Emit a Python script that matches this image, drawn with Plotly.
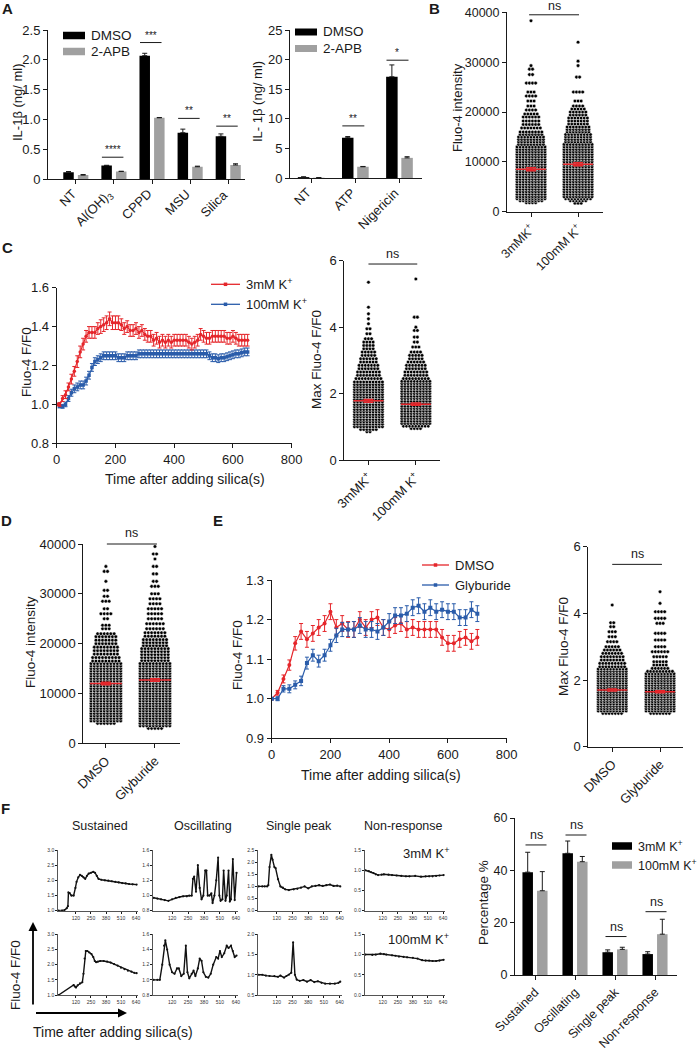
import plotly.graph_objects as go

W, H = 699, 1050
FONT = "Liberation Sans, Arial, Helvetica, sans-serif"
RED = "#e5262b"; BLUE = "#2a5caa"; GREY = "#a0a0a0"; INK = "#1a1a1a"

# ------------------------------------------------------------------ data
A1_cats = ["NT", "Al(OH)<sub>3</sub>", "CPPD", "MSU", "Silica"]
A1_dmso = [0.12, 0.23, 2.07, 0.78, 0.72]
A1_dmso_err = [0.01, 0.005, 0.04, 0.06, 0.04]
A1_apb = [0.07, 0.13, 1.03, 0.21, 0.24]
A1_apb_err = [0.01, 0.005, 0.005, 0.01, 0.02]
A1_sig = ["", "****", "***", "**", "**"]
A1_sig_y = [None, 0.37, 2.29, 1.02, 0.89]

A2_cats = ["NT", "ATP", "Nigericin"]
A2_dmso = [0.15, 6.8, 17.1]
A2_dmso_err = [0.05, 0.2, 2.0]
A2_apb = [0.05, 1.9, 3.4]
A2_apb_err = [0.02, 0.05, 0.2]
A2_sig = ["", "**", "*"]
A2_sig_y = [None, 8.8, 19.9]

# panel B swarm (Fluo-4 intensity), rows of dots: level value and number of dots
B_cats = ["3mMK<sup>+</sup>", "100mM K<sup>+</sup>"]
B_3mM_levels = [1800, 2200, 2600, 3000, 3500, 4000, 4500, 5000, 5500, 6000,
                6500, 7000, 7500, 8000, 8500, 9000, 9500, 10000, 10500, 11000,
                11500, 12000, 12500, 13000, 13500, 14000, 14500, 15000, 15500, 16000,
                16800, 17500, 18200, 19000, 19600, 20400, 21200, 22200, 23200, 24000,
                25800, 27500, 28600, 29300, 38300]
B_3mM_counts = [4, 8, 10, 10, 10, 10, 10, 10, 10, 10,
                10, 10, 10, 10, 10, 10, 10, 10, 10, 10,
                10, 10, 10, 10, 9, 9, 9, 9, 8, 8,
                7, 6, 6, 6, 5, 4, 3, 3, 4, 3,
                4, 2, 2, 1, 1]
B_100mM_levels = [1700, 2200, 2600, 3000, 3500, 4000, 4500, 5000, 5500, 6000,
                  6500, 7000, 7500, 8000, 8500, 9000, 9500, 10000, 10500, 11000,
                  11500, 12000, 12500, 13000, 13500, 14000, 14500, 15000, 15500, 16000,
                  16500, 17000, 17600, 18200, 18800, 19400, 20000, 20600, 21200, 22200,
                  24000, 27000, 29300, 30200, 34000]
B_100mM_counts = [3, 6, 9, 10, 10, 10, 10, 10, 10, 10,
                  10, 10, 10, 10, 10, 10, 10, 10, 10, 10,
                  10, 10, 10, 10, 10, 9, 9, 9, 9, 8,
                  8, 8, 7, 7, 7, 6, 6, 5, 4, 3,
                  4, 2, 1, 1, 1]
B_means = [8500, 9500]
B_sems = [300, 300]

# panel C kinetics
C_t = [0, 10, 20, 30, 40, 50, 60, 70, 80, 90, 100, 110, 120, 130, 140, 150, 160, 170, 180, 190,
       200, 210, 220, 230, 240, 250, 260, 270, 280, 290, 300, 310, 320, 330, 340, 350, 360, 370, 380, 390,
       400, 410, 420, 430, 440, 450, 460, 470, 480, 490, 500, 510, 520, 530, 540, 550, 560, 570, 580, 590,
       600, 610, 620, 630, 640, 650]
C_red = [1.00, 1.00, 1.03, 1.05, 1.09, 1.13, 1.17, 1.22, 1.27, 1.31,
         1.35, 1.37, 1.37, 1.37, 1.39, 1.40, 1.41, 1.42, 1.44, 1.42,
         1.42, 1.42, 1.41, 1.39, 1.40, 1.38, 1.38, 1.39, 1.37, 1.38,
         1.36, 1.35, 1.35, 1.33, 1.34, 1.32, 1.33, 1.32, 1.33, 1.32,
         1.33, 1.33, 1.33, 1.33, 1.33, 1.32, 1.31, 1.32, 1.33, 1.36,
         1.35, 1.34, 1.34, 1.35, 1.35, 1.35, 1.35, 1.35, 1.34, 1.34,
         1.35, 1.34, 1.33, 1.33, 1.33, 1.33]
C_red_err = [0.005, 0.01, 0.015, 0.02, 0.02, 0.025, 0.025, 0.03, 0.03, 0.03,
             0.03, 0.03, 0.03, 0.03, 0.03, 0.035, 0.035, 0.035, 0.035, 0.035,
             0.035, 0.035, 0.03, 0.03, 0.03, 0.03, 0.03, 0.03, 0.03, 0.03,
             0.03, 0.03, 0.03, 0.03, 0.03, 0.03, 0.03, 0.03, 0.03, 0.03,
             0.03, 0.03, 0.03, 0.03, 0.03, 0.03, 0.03, 0.03, 0.03, 0.03,
             0.03, 0.03, 0.03, 0.03, 0.03, 0.03, 0.03, 0.03, 0.03, 0.03,
             0.03, 0.03, 0.03, 0.03, 0.03, 0.03]
C_blue = [1.00, 0.99, 0.99, 1.00, 1.03, 1.06, 1.08, 1.09, 1.10, 1.10,
          1.12, 1.15, 1.19, 1.22, 1.23, 1.24, 1.25, 1.25, 1.25, 1.25,
          1.25, 1.24, 1.24, 1.24, 1.25, 1.25, 1.25, 1.25, 1.26, 1.26,
          1.26, 1.26, 1.26, 1.26, 1.26, 1.26, 1.26, 1.26, 1.26, 1.26,
          1.26, 1.26, 1.26, 1.26, 1.26, 1.26, 1.26, 1.26, 1.26, 1.26,
          1.26, 1.26, 1.25, 1.24, 1.24, 1.235, 1.24, 1.24, 1.245, 1.25,
          1.255, 1.26, 1.26, 1.265, 1.27, 1.27]
C_blue_err = [0.005, 0.008, 0.01, 0.012, 0.015, 0.018, 0.02, 0.02, 0.02, 0.02,
              0.02, 0.02, 0.02, 0.02, 0.02, 0.02, 0.02, 0.02, 0.02, 0.02,
              0.02, 0.02, 0.02, 0.02, 0.02, 0.02, 0.02, 0.02, 0.02, 0.02,
              0.02, 0.02, 0.02, 0.02, 0.02, 0.02, 0.02, 0.02, 0.02, 0.02,
              0.02, 0.02, 0.02, 0.02, 0.02, 0.02, 0.02, 0.02, 0.02, 0.02,
              0.02, 0.02, 0.02, 0.02, 0.02, 0.02, 0.02, 0.02, 0.02, 0.02,
              0.02, 0.02, 0.02, 0.02, 0.02, 0.02]

C2_cats = ["3mMK<sup>+</sup>", "100mM K<sup>+</sup>"]
C2_3mM_levels = [0.85, 0.92, 1.0, 1.08, 1.15, 1.22, 1.3, 1.37, 1.45, 1.52,
                 1.6, 1.67, 1.75, 1.82, 1.9, 1.97, 2.05, 2.12, 2.2, 2.27,
                 2.35, 2.45, 2.55, 2.65, 2.75, 2.85, 2.95, 3.05, 3.15, 3.25,
                 3.35, 3.45, 3.55, 3.65, 3.8, 3.95, 4.1, 4.25, 4.4, 4.6, 5.35]
C2_3mM_counts = [2, 6, 10, 10, 10, 10, 10, 10, 10, 10,
                 10, 10, 10, 10, 10, 10, 10, 10, 10, 10,
                 10, 9, 8, 8, 7, 7, 6, 6, 5, 5,
                 4, 4, 4, 3, 2, 2, 1, 1, 1, 1, 1]
C2_100mM_levels = [0.95, 1.02, 1.1, 1.17, 1.25, 1.32, 1.4, 1.47, 1.55, 1.62,
                   1.7, 1.77, 1.85, 1.92, 2.0, 2.07, 2.15, 2.22, 2.3, 2.37,
                   2.45, 2.55, 2.65, 2.75, 2.85, 2.95, 3.05, 3.15, 3.25, 3.4,
                   3.55, 3.7, 3.9, 4.0, 4.3, 5.45]
C2_100mM_counts = [4, 9, 10, 10, 10, 10, 10, 10, 10, 10,
                   10, 10, 10, 10, 10, 10, 10, 10, 10, 10,
                   9, 8, 8, 7, 7, 6, 5, 5, 4, 3,
                   2, 2, 2, 1, 2, 1]
C2_means = [1.78, 1.68]
C2_sems = [0.04, 0.035]

D_cats = ["DMSO", "Glyburide"]
D_dmso_levels = [4000, 4500, 5000, 5500, 6000, 6500, 7000, 7500, 8000, 8500,
                 9000, 9500, 10000, 10500, 11000, 11500, 12000, 12500, 13000, 13500,
                 14000, 14500, 15000, 15500, 16000, 16500, 17200, 17900, 18600, 19300,
                 20000, 20700, 21400, 22000, 23000, 23700, 25000, 26000, 27000, 28500,
                 29500, 30700, 32500, 34500, 35500]
D_dmso_counts = [6, 10, 10, 10, 10, 10, 10, 10, 10, 10,
                 10, 10, 10, 10, 10, 10, 10, 10, 10, 10,
                 10, 10, 10, 10, 10, 9, 9, 8, 8, 8,
                 7, 7, 7, 6, 3, 3, 2, 4, 2, 3,
                 2, 2, 1, 2, 1]
D_gly_levels = [3000, 3500, 4000, 4500, 5000, 5500, 6000, 6500, 7000, 7500,
                8000, 8500, 9000, 9500, 10000, 10500, 11000, 11500, 12000, 12500,
                13000, 13500, 14000, 14500, 15000, 15500, 16000, 16600, 17200, 17800,
                18400, 19000, 19600, 20200, 20800, 21500, 22200, 23000, 24000, 25000,
                26000, 27000, 28000, 29000, 30000, 31500, 32500, 34000, 35500, 37000,
                38000, 39500]
D_gly_counts = [5, 10, 10, 10, 10, 10, 10, 10, 10, 10,
                10, 10, 10, 10, 10, 10, 10, 10, 10, 10,
                10, 10, 10, 10, 10, 10, 10, 9, 9, 9,
                9, 9, 8, 8, 8, 7, 7, 6, 6, 5,
                5, 5, 4, 4, 3, 3, 2, 2, 2, 1,
                2, 1]
D_means = [12000, 12700]
D_sems = [250, 250]

E_t = [0, 20, 40, 60, 80, 100, 120, 140, 160, 180, 200, 220, 240, 260, 280, 300, 320, 340,
       360, 380, 400, 420, 440, 460, 480, 500, 520, 540, 560, 580, 600, 620, 640, 660, 680, 700]
E_dmso = [1.0, 1.015, 1.05, 1.085, 1.14, 1.17, 1.15, 1.165, 1.18, 1.19,
          1.22, 1.18, 1.19, 1.175, 1.175, 1.20, 1.18, 1.20, 1.205, 1.18,
          1.175, 1.185, 1.19, 1.175, 1.18, 1.175, 1.175, 1.175, 1.175, 1.155,
          1.14, 1.14, 1.15, 1.155, 1.145, 1.155]
E_dmso_err = [0.003, 0.006, 0.01, 0.013, 0.017, 0.02, 0.02, 0.02, 0.02, 0.02,
              0.02, 0.02, 0.02, 0.02, 0.02, 0.02, 0.02, 0.02, 0.02, 0.02,
              0.02, 0.02, 0.02, 0.02, 0.02, 0.02, 0.02, 0.02, 0.02, 0.02,
              0.02, 0.02, 0.02, 0.02, 0.02, 0.02]
E_gly = [1.0, 1.0, 1.025, 1.025, 1.035, 1.045, 1.09, 1.11, 1.095, 1.11,
         1.135, 1.16, 1.175, 1.175, 1.175, 1.185, 1.175, 1.175, 1.17, 1.18,
         1.195, 1.21, 1.21, 1.215, 1.23, 1.235, 1.22, 1.23, 1.22, 1.225,
         1.22, 1.22, 1.205, 1.205, 1.225, 1.215]
E_gly_err = [0.003, 0.005, 0.008, 0.01, 0.01, 0.012, 0.015, 0.015, 0.015, 0.015,
             0.015, 0.018, 0.018, 0.018, 0.02, 0.02, 0.02, 0.02, 0.02, 0.02,
             0.02, 0.02, 0.02, 0.02, 0.02, 0.02, 0.02, 0.02, 0.02, 0.02,
             0.02, 0.02, 0.02, 0.02, 0.02, 0.02]

E2_cats = ["DMSO", "Glyburide"]
E2_dmso_levels = [1.0, 1.07, 1.14, 1.21, 1.28, 1.35, 1.42, 1.49, 1.56, 1.63,
                  1.7, 1.77, 1.84, 1.91, 1.98, 2.05, 2.12, 2.19, 2.26, 2.33,
                  2.4, 2.5, 2.6, 2.7, 2.8, 2.9, 3.0, 3.15, 3.3, 3.45,
                  3.6, 3.72, 4.25]
E2_dmso_counts = [7, 10, 10, 10, 10, 10, 10, 10, 10, 10,
                  10, 10, 10, 10, 10, 10, 10, 10, 10, 10,
                  9, 9, 8, 8, 7, 6, 5, 4, 3, 3,
                  2, 2, 1]
E2_gly_levels = [1.0, 1.07, 1.14, 1.21, 1.28, 1.35, 1.42, 1.49, 1.56, 1.63,
                 1.7, 1.77, 1.84, 1.91, 1.98, 2.05, 2.12, 2.19, 2.26, 2.35,
                 2.45, 2.55, 2.7, 2.85, 3.0, 3.2, 3.4, 3.7, 3.85, 4.05,
                 4.3, 4.65]
E2_gly_counts = [7, 10, 10, 10, 10, 10, 10, 10, 10, 10,
                 10, 10, 10, 10, 10, 10, 10, 10, 9, 6,
                 5, 5, 5, 6, 4, 4, 4, 3, 4, 4,
                 1, 1]
E2_means = [1.70, 1.65]
E2_sems = [0.03, 0.03]

# panel F single-cell traces (time s, F/F0)
F_titles = ["Sustained", "Oscillating", "Single peak", "Non-response"]
F_xticks = [120, 250, 380, 510, 640]
sus1_t = [-30, 0, 20, 40, 50, 55, 65, 80, 100, 115, 125, 140, 155, 170, 185, 200, 215, 230, 250, 270,
          285, 300, 315, 340, 370, 400, 430, 460, 490, 520, 550, 580, 610, 645]
sus1_v = [1.0, 1.0, 1.02, 1.08, 1.15, 1.6, 1.58, 1.5, 1.5, 1.75, 1.95, 2.1, 2.18, 2.15, 2.1, 2.05, 2.15, 2.22, 2.25, 2.28,
          2.25, 2.15, 2.05, 2.02, 2.0, 1.99, 1.97, 1.95, 1.93, 1.91, 1.9, 1.88, 1.87, 1.86]
sus2_t = [-30, 100, 110, 120, 135, 155, 175, 185, 195, 205, 218, 235, 254, 270, 283, 295, 310, 330, 360, 390,
          420, 450, 480, 510, 540, 570, 600, 625, 645]
sus2_v = [1.0, 1.33, 1.28, 1.25, 1.32, 1.38, 1.42, 1.7, 2.2, 2.45, 2.45, 2.4, 2.35, 2.25, 2.12, 2.08, 2.1, 2.12, 2.12, 2.1,
          2.07, 2.02, 1.97, 1.9, 1.85, 1.8, 1.77, 1.73, 1.72]
osc1_t = [-30, 0, 30, 60, 90, 120, 150, 180, 210, 240, 260, 280, 290, 300, 315, 330, 345, 360, 375, 390,
          400, 410, 425, 440, 450, 465, 480, 495, 505, 515, 530, 540, 555, 565, 580, 590, 600, 615, 630, 645]
osc1_v = [0.97, 0.96, 0.95, 0.94, 0.93, 0.95, 0.97, 0.98, 0.99, 0.99, 1.0, 1.0, 1.22, 1.25, 1.05, 1.4, 1.1, 0.95, 1.0, 1.33,
          1.33, 1.0, 1.0, 1.03, 0.9, 1.0, 1.2, 1.5, 1.0, 0.93, 0.95, 1.33, 0.93, 1.0, 1.33, 0.92, 0.95, 1.48, 0.94, 1.3]
osc2_t = [-30, 0, 20, 40, 55, 65, 80, 100, 120, 140, 160, 175, 195, 215, 232, 245, 260, 280, 295, 310,
          330, 345, 360, 375, 395, 415, 435, 455, 480, 495, 510, 525, 545, 565, 580, 600, 615, 630, 645]
osc2_v = [1.0, 1.0, 1.0, 1.2, 1.45, 1.52, 1.4, 1.2, 1.1, 1.08, 1.15, 1.15, 1.05, 1.08, 1.45, 1.1, 1.02, 1.08, 1.12, 1.05,
          1.15, 1.28, 1.25, 1.1, 1.04, 1.03, 1.08, 1.2, 1.3, 1.28, 1.38, 1.3, 1.35, 1.45, 1.42, 1.45, 1.38, 1.3, 1.32]
sgl1_t = [-30, 0, 20, 40, 50, 60, 75, 85, 100, 110, 130, 150, 170, 190, 220, 260, 290, 320, 350, 380,
          410, 440, 470, 500, 530, 560, 590, 620, 645]
sgl1_v = [1.0, 1.0, 1.0, 1.0, 1.05, 1.8, 2.3, 2.1, 1.8, 1.75, 1.3, 1.0, 0.95, 0.88, 0.85, 0.88, 0.9, 0.95, 1.0, 0.92,
          1.0, 1.02, 1.05, 1.02, 1.05, 1.08, 1.02, 1.03, 1.0]
sgl2_t = [-30, 0, 30, 60, 100, 130, 150, 180, 200, 220, 240, 255, 270, 285, 310, 340, 370, 400, 430, 460,
          490, 520, 560, 600, 630, 645]
sgl2_v = [1.0, 1.0, 0.98, 0.97, 0.97, 0.95, 0.98, 0.93, 0.97, 1.0, 1.05, 1.8, 1.0, 0.88, 0.85, 0.87, 0.83, 0.87, 0.82, 0.84,
          0.8, 0.78, 0.78, 0.78, 0.8, 0.83]
non1_t = [-30, 0, 20, 40, 60, 80, 110, 130, 170, 200, 240, 280, 320, 350, 400, 450, 490, 520, 550, 580, 610, 645]
non1_v = [1.0, 0.98, 0.95, 0.93, 0.9, 0.88, 0.89, 0.9, 0.89, 0.88, 0.87, 0.86, 0.85, 0.85, 0.86, 0.84, 0.85, 0.85, 0.85, 0.86, 0.87, 0.88]
non2_t = [-30, 30, 60, 100, 130, 150, 200, 230, 260, 300, 330, 380, 420, 460, 490, 520, 550, 580, 610, 645]
non2_v = [1.0, 0.99, 1.0, 1.02, 1.01, 1.0, 0.98, 0.97, 0.95, 0.94, 0.93, 0.92, 0.9, 0.86, 0.85, 0.85, 0.84, 0.84, 0.85, 0.87]

F2_cats = ["Sustained", "Oscillating", "Single peak", "Non-response"]
F2_3mM = [39.3, 46.5, 8.7, 8.0]
F2_3mM_err = [7.6, 4.7, 0.9, 0.9]
F2_100mM = [32.2, 43.3, 9.8, 15.6]
F2_100mM_err = [7.3, 2.0, 0.8, 5.7]
F2_sig_y = [49.7, 53.5, 14.7, 24.2]

# ------------------------------------------------------------------ helpers
fig = go.Figure()
axes = {}
shapes = []
annots = []


class Panel:
    def __init__(self, n, l, r, t, b, xr, yr):
        self.l, self.r, self.t, self.b, self.xr, self.yr = l, r, t, b, xr, yr
        s = "" if n == 1 else str(n)
        self.xref, self.yref = "x" + s, "y" + s

    def px(self, v):
        return (self.l + (v - self.xr[0]) / (self.xr[1] - self.xr[0]) * (self.r - self.l)) / W

    def py(self, v):
        return 1 - (self.b - (v - self.yr[0]) / (self.yr[1] - self.yr[0]) * (self.b - self.t)) / H

    def ux(self, pixels):
        return pixels / (self.r - self.l) * (self.xr[1] - self.xr[0])


def axis_base(size=12, ticklen=4, lw=1):
    return dict(showline=True, linecolor=INK, linewidth=lw, ticks="outside", ticklen=ticklen,
                tickwidth=1, tickcolor=INK, showgrid=False, zeroline=False, fixedrange=True,
                automargin=False,
                tickfont=dict(family=FONT, size=size, color=INK))


count = [0]


def panel(l, r, t, b, xr, yr, xkw=None, ykw=None, size=12, ticklen=4):
    count[0] += 1
    n = count[0]
    p = Panel(n, l, r, t, b, xr, yr)
    s = "" if n == 1 else str(n)
    xa = axis_base(size, ticklen)
    xa.update(domain=[l / W, r / W], range=xr, anchor="y" + s)
    xa.update(xkw or {})
    ya = axis_base(size, ticklen)
    ya.update(domain=[1 - b / H, 1 - t / H], range=yr, anchor="x" + s)
    ya.update(ykw or {})
    axes["xaxis" + s] = xa
    axes["yaxis" + s] = ya
    return p


def note(s, X, Y, size=12, angle=0, xa="center", ya="middle", color=INK):
    annots.append(dict(text=s, x=X, y=Y, xref="paper", yref="paper", showarrow=False,
                       font=dict(family=FONT, size=size, color=color), textangle=angle,
                       xanchor=xa, yanchor=ya, borderpad=0))


def pnote(s, x, y, **kw):
    note(s, x / W, 1 - y / H, **kw)


def seg(X0, Y0, X1, Y1, color=INK, width=1):
    shapes.append(dict(type="line", xref="paper", yref="paper", x0=X0, y0=Y0, x1=X1, y1=Y1,
                       line=dict(color=color, width=width)))


def rect(x0, y0, x1, y1, color):
    shapes.append(dict(type="rect", xref="paper", yref="paper", x0=x0 / W, y0=1 - y1 / H,
                       x1=x1 / W, y1=1 - y0 / H, line=dict(width=0), fillcolor=color))


def sig(p, xa, xb, yv, label, size=11, gap=1):
    seg(p.px(xa), p.py(yv), p.px(xb), p.py(yv))
    note(label, (p.px(xa) + p.px(xb)) / 2, p.py(yv) + gap / H, size=size, ya="bottom")


def rot_labels(p, labels, size=13):
    # rotated category labels, end of text at each tick
    for i, lab in enumerate(labels):
        note(lab, p.px(i) + 4 / W, 1 - (p.b + 6) / H, size=size, angle=-45, xa="right", ya="top")


def add_bars(p, vals, errs, color, offset, width):
    fig.add_trace(go.Bar(x=[i + offset for i in range(len(vals))], y=vals, width=width,
                         marker=dict(color=color, line=dict(width=0)),
                         error_y=dict(type="data", symmetric=False, array=errs,
                                      arrayminus=[0] * len(errs), color=INK, thickness=1, width=2.5),
                         xaxis=p.xref, yaxis=p.yref))


def add_swarm(p, center, levels, counts, mean, sem, sp_px=3.1, half_px=15):
    sp = p.ux(sp_px)
    xs, ys = [], []
    for lv, c in zip(levels, counts):
        for i in range(c):
            xs.append(center + (i - (c - 1) / 2) * sp)
            ys.append(lv)
    fig.add_trace(go.Scatter(x=xs, y=ys, mode="markers", cliponaxis=False,
                             marker=dict(size=3.6, color="black", line=dict(width=0.5, color="white")),
                             xaxis=p.xref, yaxis=p.yref))
    hw = p.ux(half_px)
    fig.add_trace(go.Scatter(x=[center - hw, center + hw], y=[mean, mean], mode="lines",
                             line=dict(color=RED, width=1.5), xaxis=p.xref, yaxis=p.yref))
    fig.add_trace(go.Scatter(x=[center], y=[mean], mode="markers", marker=dict(size=1, color=RED),
                             error_y=dict(type="data", array=[sem], color=RED, thickness=1.5, width=5),
                             xaxis=p.xref, yaxis=p.yref))


def add_series(p, t, v, e, color, symbol, msize):
    fig.add_trace(go.Scatter(x=t, y=v, mode="lines+markers", line=dict(color=color, width=1.2),
                             marker=dict(color=color, size=msize, symbol=symbol),
                             error_y=dict(type="data", array=e, color=color, thickness=1, width=2),
                             xaxis=p.xref, yaxis=p.yref))


def line_legend(x0, x1, y, color, label, symbol_px=3.5, size=13):
    seg(x0 / W, 1 - y / H, x1 / W, 1 - y / H, color=color, width=1.3)
    c = (x0 + x1) / 2
    rect(c - symbol_px / 2, y - symbol_px / 2, c + symbol_px / 2, y + symbol_px / 2, color)
    pnote(label, x1 + 5, y, size=size, xa="left")


def box_legend(x0, x1, y, h, color, label, size=13.5):
    rect(x0, y - h / 2, x1, y + h / 2, color)
    pnote(label, x1 + 5, y, size=size, xa="left")


cat_x = dict(tickangle=-45)

# ------------------------------------------------------------------ panel A left
pA1 = panel(48, 245, 30, 179.3, [-0.73, 4.44], [0, 2.5],
            dict(tickvals=list(range(5)), showticklabels=False),
            dict(tickvals=[0, 0.5, 1.0, 1.5, 2.0, 2.5], ticktext=["0", "0.5", "1.0", "1.5", "2.0", "2.5"]),
            size=13)
rot_labels(pA1, A1_cats)
off = pA1.ux(7.3); bw = pA1.ux(10.5)
add_bars(pA1, A1_dmso, A1_dmso_err, "black", -off, bw)
add_bars(pA1, A1_apb, A1_apb_err, GREY, off, bw)
for i, (s, yv) in enumerate(zip(A1_sig, A1_sig_y)):
    if s:
        sig(pA1, i - pA1.ux(12), i + pA1.ux(9.5), yv, s, size=10)
box_legend(63, 85, 35.5, 7.5, "black", "DMSO")
box_legend(63, 85, 51.5, 7.5, GREY, "2-APB")
pnote("IL-1β (ng/ ml)", 17, 102, size=13, angle=-90)

# ------------------------------------------------------------------ panel A right
pA2 = panel(290, 422, 30, 178, [-0.48, 2.51], [0, 25],
            dict(tickvals=list(range(3)), showticklabels=False),
            dict(tickvals=[0, 5, 10, 15, 20, 25]), size=13)
rot_labels(pA2, A2_cats)
off = pA2.ux(7.6); bw = pA2.ux(11.5)
add_bars(pA2, A2_dmso, A2_dmso_err, "black", -off, bw)
add_bars(pA2, A2_apb, A2_apb_err, GREY, off, bw)
for i, (s, yv) in enumerate(zip(A2_sig, A2_sig_y)):
    if s:
        sig(pA2, i - pA2.ux(13), i + pA2.ux(9), yv, s, size=10)
box_legend(295, 317, 32, 7, "black", "DMSO")
box_legend(295, 317, 48.5, 7, GREY, "2-APB")
pnote("IL- 1β (ng/ ml)", 257, 102, size=13, angle=-90)

# ------------------------------------------------------------------ panel B
pB = panel(507, 603, 12.3, 211.7, [-0.51, 1.53], [0, 40000],
           dict(tickvals=[0, 1], ticktext=B_cats, **cat_x),
           dict(tickvals=[0, 10000, 20000, 30000, 40000], ticktext=["0", "10000", "20000", "30000", "40000"]),
           size=12.5)
add_swarm(pB, 0, B_3mM_levels, B_3mM_counts, B_means[0], B_sems[0])
add_swarm(pB, 1, B_100mM_levels, B_100mM_counts, B_means[1], B_sems[1])
sig(pB, -0.04, 1.02, 39500, "ns", size=12.5, gap=1)
pnote("Fluo-4 intensity", 457, 108, size=13, angle=-90)

# ------------------------------------------------------------------ panel C left
pC1 = panel(56.7, 291.7, 287.7, 443.3, [0, 800], [0.8, 1.6],
            dict(tickvals=[0, 200, 400, 600, 800]),
            dict(tickvals=[0.8, 1.0, 1.2, 1.4, 1.6], tickformat=".1f"), size=13)
add_series(pC1, C_t, C_blue, C_blue_err, BLUE, "square", 3.5)
add_series(pC1, C_t, C_red, C_red_err, RED, "circle", 3.5)
line_legend(211, 240, 284.3, RED, "3mM K<sup>+</sup>")
line_legend(211, 240, 304.3, BLUE, "100mM K<sup>+</sup>")
pnote("Fluo-4 F/F0", 26, 362, size=13.5, angle=-90)
pnote("Time after adding silica(s)", 185, 479, size=14)

# ------------------------------------------------------------------ panel C right
pC2 = panel(344.3, 440, 260.7, 460, [-0.51, 1.51], [0, 6],
            dict(tickvals=[0, 1], ticktext=C2_cats, **cat_x),
            dict(tickvals=[0, 2, 4, 6]), size=13)
add_swarm(pC2, 0, C2_3mM_levels, C2_3mM_counts, C2_means[0], C2_sems[0])
add_swarm(pC2, 1, C2_100mM_levels, C2_100mM_counts, C2_means[1], C2_sems[1])
sig(pC2, 0.0, 1.03, 5.9, "ns", size=12.5, gap=2)
pnote("Max Fluo-4 F/F0", 316, 360, size=13.5, angle=-90)

# ------------------------------------------------------------------ panel D
pD = panel(83.3, 180, 544, 743.3, [-0.46, 1.51], [0, 40000],
           dict(tickvals=[0, 1], ticktext=D_cats, **cat_x),
           dict(tickvals=[0, 10000, 20000, 30000, 40000], ticktext=["0", "10000", "20000", "30000", "40000"]),
           size=13)
add_swarm(pD, 0, D_dmso_levels, D_dmso_counts, D_means[0], D_sems[0], sp_px=3.3, half_px=16)
add_swarm(pD, 1, D_gly_levels, D_gly_counts, D_means[1], D_sems[1], sp_px=3.3, half_px=16)
sig(pD, 0.02, 1.04, 40000, "ns", size=12.5, gap=3)
pnote("Fluo-4 intensity", 30, 642, size=13.5, angle=-90)

# ------------------------------------------------------------------ panel E left
pE1 = panel(271.7, 506.7, 580, 738.3, [0, 800], [0.9, 1.3],
            dict(tickvals=[0, 200, 400, 600, 800]),
            dict(tickvals=[0.9, 1.0, 1.1, 1.2, 1.3], tickformat=".1f"), size=13)
add_series(pE1, E_t, E_dmso, E_dmso_err, RED, "circle", 4)
add_series(pE1, E_t, E_gly, E_gly_err, BLUE, "square", 4)
line_legend(422, 449, 565, RED, "DMSO")
line_legend(422, 449, 585, BLUE, "Glyburide")
pnote("Fluo-4 F/F0", 237, 655, size=13.5, angle=-90)
pnote("Time after adding silica(s)", 381, 775, size=14)

# ------------------------------------------------------------------ panel E right
pE2 = panel(588.3, 683, 546.7, 746.7, [-0.5, 1.48], [0, 6],
            dict(tickvals=[0, 1], ticktext=E2_cats, **cat_x),
            dict(tickvals=[0, 2, 4, 6]), size=13)
add_swarm(pE2, 0, E2_dmso_levels, E2_dmso_counts, E2_means[0], E2_sems[0])
add_swarm(pE2, 1, E2_gly_levels, E2_gly_counts, E2_means[1], E2_sems[1])
sig(pE2, 0.0, 1.04, 5.47, "ns", size=12.5, gap=2)
pnote("Max Fluo-4 F/F0", 563, 647, size=13.5, angle=-90)

# ------------------------------------------------------------------ panel F traces
cols = [(58.3, 138), (153.3, 238), (258.3, 341.7), (365, 445)]
rows = [(850, 910.7), (934.3, 995)]
traces = [[(sus1_t, sus1_v, [1.0, 3.0], [1.0, 1.5, 2.0, 2.5, 3.0]),
           (osc1_t, osc1_v, [0.8, 1.6], [0.8, 1.0, 1.2, 1.4, 1.6]),
           (sgl1_t, sgl1_v, [0.0, 2.5], [0.0, 0.5, 1.0, 1.5, 2.0, 2.5]),
           (non1_t, non1_v, [0.0, 1.5], [0.0, 0.5, 1.0, 1.5])],
          [(sus2_t, sus2_v, [1.0, 3.0], [1.0, 1.5, 2.0, 2.5, 3.0]),
           (osc2_t, osc2_v, [0.8, 1.6], [0.8, 1.0, 1.2, 1.4, 1.6]),
           (sgl2_t, sgl2_v, [0.5, 2.0], [0.5, 1.0, 1.5, 2.0]),
           (non2_t, non2_v, [0.0, 1.5], [0.0, 0.5, 1.0, 1.5])]]
for ri, (rt, rb) in enumerate(rows):
    for ci, (cl, cr) in enumerate(cols):
        t, v, yr, yt = traces[ri][ci]
        small_font = dict(family=FONT, size=5, color="#333")
        p = panel(cl, cr, rt, rb, [-33, 657], yr,
                  dict(tickvals=F_xticks, tickfont=small_font, linecolor="#555"),
                  dict(tickvals=yt, tickformat=".1f", tickfont=small_font, linecolor="#555"),
                  size=5, ticklen=2)
        fig.add_trace(go.Scatter(x=t, y=v, mode="lines+markers", cliponaxis=False,
                                 line=dict(color="#111", width=1.4),
                                 marker=dict(color="#111", size=2.2),
                                 xaxis=p.xref, yaxis=p.yref))
for title, xc in zip(F_titles, [100, 203, 299, 403]):
    pnote(title, xc, 826, size=12.5)
pnote("3mM K<sup>+</sup>", 450, 853, size=13, xa="right")
pnote("100mM K<sup>+</sup>", 450, 939, size=13, xa="right")
annots.append(dict(x=33 / W, y=1 - 922 / H, xref="paper", yref="paper", ax=0, ay=91,
                   axref="pixel", ayref="pixel", showarrow=True, arrowhead=2, arrowsize=1,
                   arrowwidth=1.8, arrowcolor="black", text=" "))
annots.append(dict(x=127 / W, y=1 - 1013 / H, xref="paper", yref="paper", ax=-94, ay=0,
                   axref="pixel", ayref="pixel", showarrow=True, arrowhead=2, arrowsize=1,
                   arrowwidth=1.8, arrowcolor="black", text=" "))
pnote("Fluo-4 F/F0", 15, 975, size=13.5, angle=-90)
pnote("Time after adding silica(s)", 113, 1032, size=14)

# ------------------------------------------------------------------ panel F bars
pF = panel(515, 677, 818, 975, [-0.5, 3.55], [0, 60],
           dict(tickvals=list(range(4)), ticktext=F2_cats, **cat_x),
           dict(tickvals=[0, 20, 40, 60]), size=12.5)
off = pF.ux(7.3); bw = pF.ux(10.5)
add_bars(pF, F2_3mM, F2_3mM_err, "black", -off, bw)
add_bars(pF, F2_100mM, F2_100mM_err, GREY, off, bw)
for i, yv in enumerate(F2_sig_y):
    sig(pF, i - pF.ux(9.5), i + pF.ux(11.5), yv, "ns", size=12.5, gap=2)
box_legend(612, 632, 846, 7.5, "black", "3mM K<sup>+</sup>", size=12.5)
box_legend(612, 632, 865, 7.5, GREY, "100mM K<sup>+</sup>", size=12.5)
pnote("Percentage %", 483, 903, size=13.5, angle=-90)

# ------------------------------------------------------------------ panel letters
for letter, x, y in [("A", 7, 8), ("B", 434, 8), ("C", 7, 247), ("D", 6, 520), ("E", 218, 520), ("F", 5, 808)]:
    pnote("<b>" + letter + "</b>", x, y, size=15)

fig.update_layout(width=W, height=H, margin=dict(l=0, r=0, t=0, b=0, autoexpand=False), showlegend=False,
                  paper_bgcolor="white", plot_bgcolor="white", barmode="overlay",
                  font=dict(family=FONT, color=INK), shapes=shapes, annotations=annots, **axes)
fig.write_html("out.html", config={"displayModeBar": False, "staticPlot": True},
               post_script="document.body.style.margin='0';document.body.style.padding='0';"
                           "document.body.style.overflow='hidden';")
